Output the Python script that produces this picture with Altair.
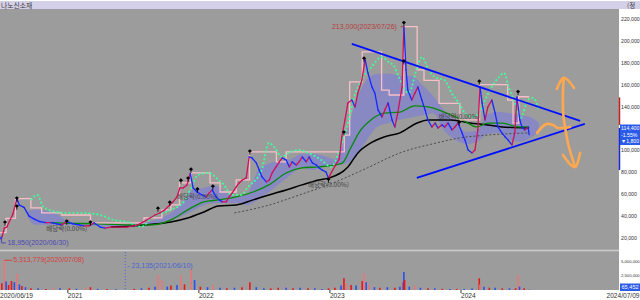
import altair as alt
import pandas as pd

LAT = "Liberation Sans"
KR = "Noto Sans CJK KR"

# ---------------- data (prices in thousand won, volume in millions) ----------------
price = [("2020-06-19",22.8),("2020-06-30",18.95),("2020-07-08",29),("2020-07-15",30),("2020-08-01",42),("2020-08-12",56),("2020-08-19",50),("2020-09-01",48),("2020-09-15",40),("2020-10-01",37),("2020-10-15",35),("2020-11-01",34),("2020-11-15",34),("2020-12-01",33),("2020-12-15",32),("2020-12-29",35),
 ("2021-01-15",33),("2021-02-01",32),("2021-02-15",31),("2021-03-01",31),("2021-03-15",34),("2021-04-01",30),("2021-04-15",29),("2021-05-01",30),("2021-05-15",30),("2021-06-01",30),("2021-06-15",30),("2021-07-01",31),("2021-07-15",32),("2021-08-01",35),("2021-08-18",38.3),
 ("2021-09-01",41),("2021-09-15",43),("2021-09-28",45.7),("2021-10-12",50.2),("2021-10-21",53),("2021-11-01",57.5),("2021-11-09",65.7),("2021-11-18",65.7),("2021-11-29",68.5),("2021-12-08",79),("2021-12-16",65.7),("2021-12-27",62),
 ("2022-01-10",59.3),("2022-01-21",57.5),("2022-01-30",61.2),("2022-02-07",64),("2022-02-18",57.5),("2022-02-27",54.8),("2022-03-07",53),("2022-03-18",53),("2022-03-26",57.5),("2022-04-04",61.2),("2022-04-15",66.6),("2022-04-23",70.3),("2022-05-02",73),("2022-05-13",74.9),("2022-05-21",94),("2022-05-29",93.1),("2022-06-10",88.6),("2022-06-18",82.2),("2022-06-26",75.8),("2022-07-08",71.2),("2022-07-16",73),("2022-07-24",79.4),("2022-08-04",84.9),("2022-08-13",89.5),("2022-08-21",93.1),("2022-09-01",91.3),("2022-09-10",84.9),("2022-09-18",89.5),("2022-09-29",86.7),("2022-10-07",89.5),("2022-10-16",94),("2022-10-27",89.5),("2022-11-04",94),("2022-11-13",88.6),("2022-11-24",86.7),("2022-12-02",84),("2022-12-10",82.2),("2022-12-21",80.3),("2022-12-28",74.9),
 ("2023-01-15",85.8),("2023-01-27",92),("2023-02-03",112.3),("2023-02-12",127.8),("2023-02-20",143.3),("2023-03-03",146),("2023-03-12",139.7),("2023-03-20",152.5),("2023-03-31",164.3),("2023-04-09",183),("2023-04-17",170.7),("2023-04-28",158),("2023-05-06",152.5),("2023-05-15",137),("2023-05-26",130.6),("2023-06-03",137),("2023-06-12",143.3),("2023-06-23",127.8),("2023-07-01",121.4),("2023-07-09",134.2),("2023-07-21",158),("2023-07-26",213),("2023-08-01",173.5),("2023-08-06",155),("2023-08-17",146),("2023-08-26",152.5),("2023-09-03",158),("2023-09-14",146),("2023-09-23",137),("2023-10-01",127.8),("2023-10-12",121.4),("2023-10-21",125),("2023-10-29",120.5),("2023-11-09",123.3),("2023-11-17",121.4),("2023-11-26",125),("2023-12-07",118.7),("2023-12-15",121.4),("2023-12-24",125),
 ("2024-01-04",116),("2024-01-12",109.6),("2024-01-21",100.4),("2024-02-01",97.7),("2024-02-09",100.4),("2024-02-17",118.7),("2024-02-23",158),("2024-02-29",143.3),("2024-03-08",127.8),("2024-03-16",139.7),("2024-03-27",146),("2024-04-05",134.2),("2024-04-13",121.4),("2024-04-24",116),("2024-05-03",112.3),("2024-05-11",109.6),("2024-05-22",105),("2024-05-30",116),("2024-06-05",148.8),("2024-06-13",127.8),("2024-06-19",121.4),("2024-06-27",118.7),("2024-07-06",121.4),("2024-07-09",114.4)]
price_dates = [p[0] for p in price]
price_close = [p[1] for p in price]

gma_dates = ["2020-11-15","2020-12-01","2021-04-01","2021-07-01","2021-08-24","2021-10-15","2021-12-01","2022-01-15","2022-02-25","2022-04-15","2022-06-01","2022-07-15","2022-09-01","2022-10-15","2022-12-01","2023-01-15","2023-02-05","2023-03-01","2023-03-28","2023-04-25","2023-06-01","2023-07-15","2023-08-25","2023-10-01","2023-11-15","2024-01-05","2024-02-15","2024-03-15","2024-04-25","2024-06-10","2024-07-09"]
gma_vals = [34,33.8,32.9,32,32,36.5,45.7,53,54.8,57.5,62,68.5,79.4,84,85,86.7,88.6,103,118.7,127.8,134,135,140.6,139.7,135,127.8,121.4,125,125,121.4,121.4]

bma_dates = ["2021-05-01","2021-07-01","2021-08-01","2021-10-15","2021-12-01","2022-01-15","2022-02-25","2022-04-15","2022-06-01","2022-07-15","2022-09-01","2022-10-15","2022-12-01","2022-12-30","2023-02-20","2023-03-20","2023-04-25","2023-06-01","2023-07-15","2023-09-01","2023-10-01","2023-12-05","2024-01-25","2024-03-15","2024-04-25","2024-07-09"]
bma_vals = [30,31,32,34.7,38.3,43.8,49.3,50.2,54.8,59.3,63.9,68.5,73,74.9,84.9,97.7,106.8,112.3,116,125,127.8,127.8,125,123.3,121.4,120.5]

dma_dates = ["2022-04-10","2022-07-15","2022-10-08","2023-01-10","2023-04-15","2023-07-15","2023-10-25","2023-12-29","2024-03-15","2024-07-09"]
dma_vals = [42.9,50,59.3,70.3,84,97.7,106.8,111.4,114,116]

pink_dates = ["2020-06-19","2020-07-13","2020-08-08","2020-09-20","2020-10-20","2020-12-15","2021-03-05","2021-06-01","2021-08-01","2021-09-20","2021-10-15","2021-11-08","2021-12-10","2022-02-01","2022-03-01","2022-04-15","2022-05-22","2022-08-05","2022-09-01","2023-02-10","2023-02-25","2023-04-01","2023-05-25","2023-06-15","2023-07-26","2023-09-01","2023-09-20","2023-11-01","2023-12-29","2024-02-22","2024-05-10","2024-05-25","2024-06-10","2024-07-09"]
pink_vals = [25,38,56,47.5,43,41,33.8,33.8,38.3,45.7,50.2,70.3,79.4,70.3,62,73,98.6,89.5,98.6,114,162.5,190,155,150.6,213,173.5,164,143,127.8,160,146,125,149,149]

gd_dates = ["2020-09-20","2020-10-08","2020-10-25","2020-12-01","2020-12-29","2021-02-12","2021-04-01","2021-05-08","2021-06-15","2021-07-25","2021-08-20","2021-10-15","2021-11-20","2021-12-10","2021-12-29","2022-01-27","2022-02-25","2022-03-12","2022-04-01","2022-04-28","2022-05-18","2022-06-25","2022-07-15","2022-07-30","2022-08-20","2022-09-08","2022-10-05","2022-11-02","2022-12-08","2023-01-05","2023-01-25","2023-02-22","2023-03-10","2023-03-30","2023-04-27","2023-05-25","2023-06-13","2023-06-30","2023-07-12","2023-08-08","2023-09-05","2023-09-14","2023-10-03","2023-10-20","2023-11-16","2023-12-06","2023-12-26","2024-01-12","2024-02-01","2024-02-20","2024-03-08","2024-03-27","2024-04-16","2024-04-30","2024-05-13","2024-05-27","2024-06-15","2024-07-05","2024-07-20","2024-08-05"]
gd_vals = [54.8,59.3,48.4,43.8,42.9,42.9,41,36.5,34.7,30.1,38.3,45.7,53,65.7,77.6,79.4,73,68.5,59.3,59.3,66.6,82.2,106.8,103,94,97.7,100.4,97.7,91.3,85,97.7,127.8,148.8,164.3,176.2,185.3,180.8,176.2,167,152.5,180,185.3,173.5,167,164.3,152.5,143.3,134.2,130.6,134.2,146,158,167,170.7,158,146,129.6,146,148,137]

band_dates = ["2020-09-10","2020-10-01","2020-11-01","2020-12-01","2020-12-29","2021-02-01","2021-04-01","2021-06-01","2021-08-01","2021-09-15","2021-10-15","2021-11-15","2021-12-15","2022-01-15","2022-02-15","2022-03-15","2022-04-15","2022-05-15","2022-06-15","2022-07-15","2022-08-15","2022-09-15","2022-10-15","2022-11-15","2022-12-15","2023-01-15","2023-02-15","2023-03-15","2023-04-15","2023-05-15","2023-06-15","2023-07-15","2023-08-15","2023-09-15","2023-10-15","2023-11-15","2023-12-15","2024-01-15","2024-02-15","2024-03-15","2024-04-15","2024-05-15","2024-06-15","2024-07-15","2024-08-05"]
band_hi = [44,46,45,42,36,34,34,33,34,38,43,52,64,66,68,62,58,60,82,88,90,92,97,97,95,92,115,145,165,170,170,168,168,160,150,137,128,117,118,133,135,134,132,130,125]
band_lo = [40,32,32,32,32,31,31,30,31,33,36,40,45,50,52,52,52,50,55,62,70,78,84,82,85,86,88,95,110,122,125,128,130,132,134,118,110,106,108,115,116,110,108,112,117]

mk_dates = ["2020-07-10","2020-08-12","2020-08-12","2020-12-29","2021-03-05","2021-09-09","2021-10-12","2021-11-12","2021-12-02","2021-12-10","2021-12-28","2022-02-09","2022-05-23","2022-12-28","2023-02-09","2023-04-06","2023-07-26","2023-07-26","2023-12-27","2024-02-21","2024-06-08"]
mk_vals = [33.8,55.7,48.4,34.7,33.8,46.5,52,72,74,82,64,66.6,98.6,73,116,183.5,216,181,125,162.5,153]

exdiv_dates = ["2020-12-29","2021-12-28","2022-12-28","2023-12-27"]
exdiv_label_at = [28.3,57.5,68.5,130.6]

trend_start = [("2023-03-03",197.2),("2023-08-31",74.9)]
trend_end = [("2024-11-28",126.9),("2024-12-11",124.2)]

orange_d = ["2024-10-14","2024-10-11","2024-10-11","2024-10-17","2024-10-25","2024-11-05","2024-11-14",
            "2024-09-24","2024-10-14","2024-11-11",
            "2024-10-11","2024-11-14","2024-11-28",
            "2024-07-31","2024-08-14","2024-08-28","2024-09-13","2024-09-27","2024-10-14","2024-10-31"]
orange_v = [166.2,152.5,137.0,121.4,106.8,94.0,84.9,
            156.1,166.2,157.0,
            95.9,84.9,97.7,
            116.0,121.4,124.2,123.3,120.5,120.5,121.4]
orange_s = ["a"]*7 + ["b"]*3 + ["c"]*3 + ["d"]*7

volume = [("2020-06-22",0.8,"b"),("2020-07-01",1.2,"r"),("2020-07-08",5.31,"p"),("2020-07-13",1.5,"b"),("2020-07-20",0.9,"r"),("2020-07-28",1.6,"r"),("2020-08-05",1.4,"b"),("2020-08-12",2.9,"p"),("2020-08-19",1.0,"b"),("2020-08-26",0.7,"r"),("2020-09-05",0.5,"b"),("2020-09-20",0.3,"r"),("2020-10-10",0.3,"b"),("2020-11-01",0.2,"r"),("2020-11-20",0.4,"p"),("2020-12-10",0.3,"b"),
 ("2021-01-05",0.3,"r"),("2021-01-25",0.2,"b"),("2021-02-20",0.4,"p"),("2021-03-05",0.5,"r"),("2021-03-25",0.2,"b"),("2021-04-20",0.2,"r"),("2021-05-15",0.15,"b"),("2021-06-10",0.023,"b"),("2021-07-05",0.2,"r"),("2021-07-25",0.3,"b"),("2021-08-15",0.4,"r"),("2021-09-01",0.6,"b"),("2021-09-09",2.7,"p"),("2021-09-20",1.8,"p"),("2021-10-05",0.6,"b"),("2021-10-15",0.8,"r"),("2021-11-01",0.9,"b"),("2021-11-12",2.7,"p"),("2021-11-22",1.0,"r"),("2021-12-10",3.6,"p"),("2021-12-20",1.8,"b"),
 ("2022-01-05",0.6,"r"),("2022-01-25",0.5,"b"),("2022-02-09",0.9,"p"),("2022-03-01",0.4,"b"),("2022-03-20",0.3,"r"),("2022-04-10",0.4,"b"),("2022-05-01",0.5,"r"),("2022-05-23",1.4,"r"),("2022-06-10",0.5,"b"),("2022-07-01",0.3,"b"),("2022-07-20",0.3,"r"),("2022-08-10",0.4,"r"),("2022-09-01",0.4,"b"),("2022-09-20",0.3,"r"),("2022-10-10",0.4,"b"),("2022-11-01",0.3,"r"),("2022-11-20",0.3,"b"),("2022-12-10",0.2,"b"),("2022-12-28",0.3,"r"),
 ("2023-01-15",0.4,"r"),("2023-02-01",0.8,"b"),("2023-02-09",2.1,"r"),("2023-02-15",1.2,"p"),("2023-03-01",0.9,"r"),("2023-03-15",0.8,"b"),("2023-04-01",1.6,"r"),("2023-04-06",3.0,"p"),("2023-04-12",1.4,"b"),("2023-04-20",1.0,"p"),("2023-05-05",0.5,"b"),("2023-05-20",0.4,"r"),("2023-06-10",0.5,"b"),("2023-07-01",0.4,"r"),("2023-07-15",0.6,"b"),("2023-07-24",1.4,"r"),("2023-07-26",3.2,"b"),("2023-07-28",1.8,"r"),("2023-08-10",0.6,"b"),("2023-08-25",0.8,"p"),("2023-09-10",0.4,"b"),("2023-10-01",0.3,"r"),("2023-10-20",0.3,"b"),("2023-11-10",0.2,"r"),("2023-12-01",0.2,"b"),("2023-12-20",0.2,"r"),
 ("2024-01-10",0.2,"b"),("2024-02-01",0.25,"b"),("2024-02-21",2.1,"r"),("2024-02-23",1.0,"p"),("2024-03-05",0.6,"b"),("2024-03-20",0.4,"r"),("2024-04-05",0.4,"b"),("2024-04-25",0.3,"r"),("2024-05-15",0.3,"b"),("2024-06-01",0.3,"r"),("2024-06-08",2.7,"p"),("2024-06-12",0.6,"b"),("2024-06-25",0.3,"r"),("2024-07-09",0.065,"b")]

price_ticks = [20,40,60,80,100,120,140,160,180,200,220]
price_tick_labels = ["20,000","40,000","60,000","80,000","100,000","120,000","140,000","160,000","180,000","200,000","220,000"]
vol_ticks = [2.5, 5.0]
vol_tick_labels = ["2,500,000","5,000,000"]
year_ticks = ["2021-01-01","2022-01-01","2023-01-01","2024-01-01"]
year_labels = ["2021","2022","2023","2024"]

# ---------------- scales ----------------
X = alt.Scale(domain=[alt.DateTime(year=2020, month=6, date=26), alt.DateTime(year=2025, month=3, date=19)], range=[0, 620])
YP = alt.Scale(domain=[20, 220], range=[238, 19], nice=False, zero=False)
YV = alt.Scale(domain=[0, 5], range=[290, 262], nice=False, zero=False)

def xd(f="d"):
    return alt.X(f"{f}:T", scale=X, axis=None)

def yp(f="v"):
    return alt.Y(f"{f}:Q", scale=YP, axis=None)

def yv(f="v"):
    return alt.Y(f"{f}:Q", scale=YV, axis=None)

one = pd.DataFrame({"k": [0]})
layers = []

# backgrounds
layers.append(alt.Chart(one).mark_rect(color="#9c9c9c").encode(x=alt.value(0), x2=alt.value(619), y=alt.value(9), y2=alt.value(290)))
layers.append(alt.Chart(one).mark_rect(color="#d4d0e8").encode(x=alt.value(0), x2=alt.value(640), y=alt.value(1), y2=alt.value(9)))
layers.append(alt.Chart(one).mark_rule(color="#cdcdcd", strokeWidth=1.5).encode(x=alt.value(0), x2=alt.value(619), y=alt.value(250.5)))

# cloud band
band = pd.DataFrame({"d": band_dates, "hi": band_hi, "lo": band_lo})
layers.append(alt.Chart(band).mark_area(color="#7878e4", opacity=0.55, interpolate="monotone").encode(x=xd(), y=yp("hi"), y2="lo:Q"))

# moving averages
layers.append(alt.Chart(pd.DataFrame({"d": dma_dates, "v": dma_vals})).mark_line(color="#4a4a4a", strokeWidth=1, strokeDash=[2, 2], interpolate="monotone").encode(x=xd(), y=yp()))
layers.append(alt.Chart(pd.DataFrame({"d": bma_dates, "v": bma_vals})).mark_line(color="#000000", strokeWidth=1.5, interpolate="monotone").encode(x=xd(), y=yp()))
layers.append(alt.Chart(pd.DataFrame({"d": gma_dates, "v": gma_vals})).mark_line(color="#078a07", strokeWidth=1.3, interpolate="monotone").encode(x=xd(), y=yp()))

# upper step line and green dotted
layers.append(alt.Chart(pd.DataFrame({"d": pink_dates, "v": pink_vals})).mark_line(color="#f7c0c8", strokeWidth=1.3, interpolate="step-after").encode(x=xd(), y=yp()))
layers.append(alt.Chart(pd.DataFrame({"d": gd_dates, "v": gd_vals})).mark_line(color="#3cff9a", strokeWidth=1.8, strokeDash=[2, 2], interpolate="monotone").encode(x=xd(), y=yp()))

# price
seg = pd.DataFrame({"d": price_dates[:-1], "v": price_close[:-1], "d2": price_dates[1:], "v2": price_close[1:]})
seg["dir"] = ["up" if b >= a else "dn" for a, b in zip(seg["v"], seg["v2"])]
layers.append(alt.Chart(seg).mark_rule(strokeWidth=1.3, strokeCap="round").encode(
    x=xd(), y=yp(), x2="d2:T", y2="v2:Q",
    color=alt.Color("dir:N", scale=alt.Scale(domain=["up", "dn"], range=["#d0105a", "#1428ff"]), legend=None)))

# trend lines
tr = pd.DataFrame({"d": [s[0] for s in trend_start], "v": [s[1] for s in trend_start],
                   "d2": [e[0] for e in trend_end], "v2": [e[1] for e in trend_end]})
layers.append(alt.Chart(tr).mark_rule(color="#0010ff", strokeWidth=1.8).encode(x=xd(), y=yp(), x2="d2:T", y2="v2:Q"))

# markers
MK = "M0,-1L0.75,-0.3L0,0.4L-0.75,-0.3Z M-0.15,0.3L0.15,0.3L0.15,1L-0.15,1Z"
layers.append(alt.Chart(pd.DataFrame({"d": mk_dates, "v": mk_vals})).mark_point(shape=MK, filled=True, color="#000000", size=30, opacity=1).encode(x=xd(), y=yp()))

# ex-dividend labels
layers.append(alt.Chart(pd.DataFrame({"d": exdiv_dates, "v": exdiv_label_at, "t": ["배당락(0.00%)"] * 4})).mark_text(font=KR, fontSize=6.5, color="#454545", baseline="middle").encode(x=xd(), y=yp(), text="t:N"))

# high / low annotations
layers.append(alt.Chart(pd.DataFrame({"d": ["2023-07-26"], "v": [213], "t": ["213,000(2023/07/26)"]})).mark_text(font=LAT, fontSize=7, color="#b83c3c", align="right", baseline="middle", dx=-7).encode(x=xd(), y=yp(), text="t:N"))
layers.append(alt.Chart(pd.DataFrame({"d": ["2023-07-17"], "d2": ["2023-07-26"], "v": [213]})).mark_rule(color="#b83c3c", strokeWidth=1).encode(x=xd(), x2="d2:T", y=yp()))
layers.append(alt.Chart(pd.DataFrame({"d": ["2020-06-30"], "v": [15.5], "t": ["18,950(2020/06/30)"]})).mark_text(font=LAT, fontSize=7, color="#4a4ab4", align="left", baseline="middle", dx=6).encode(x=xd(), y=yp(), text="t:N"))
layers.append(alt.Chart(pd.DataFrame({"d": ["2020-06-30"], "v": [21.9], "v2": [15.5]})).mark_rule(color="#4a4ab4", strokeWidth=1).encode(x=xd(), y=yp(), y2="v2:Q"))
layers.append(alt.Chart(pd.DataFrame({"d": ["2020-06-30"], "d2": ["2020-07-12"], "v": [15.5]})).mark_rule(color="#4a4ab4", strokeWidth=1).encode(x=xd(), x2="d2:T", y=yp()))

# orange hand-drawn arrows
orng = pd.DataFrame({"d": orange_d, "v": orange_v, "s": orange_s, "o": list(range(len(orange_d)))})
layers.append(alt.Chart(orng).mark_line(color="#ffa850", strokeWidth=2.6, strokeCap="round", strokeJoin="round", interpolate="monotone").encode(x=xd(), y=yp(), detail="s:N", order="o:Q"))

# volume
vol = pd.DataFrame({"d": [v[0] for v in volume], "v": [v[1] for v in volume], "c": [v[2] for v in volume]})
vol["z"] = 0.0
layers.append(alt.Chart(vol).mark_rule(strokeWidth=1.6).encode(
    x=xd(), y=yv(), y2="z:Q",
    color=alt.Color("c:N", scale=alt.Scale(domain=["r", "p", "b"], range=["#e81818", "#e77878", "#2a50f0"]), legend=None)))
layers.append(alt.Chart(pd.DataFrame({"d": ["2020-07-08"], "d2": ["2020-07-30"], "v": [5.31]})).mark_rule(color="#d84040", strokeWidth=1).encode(x=xd(), x2="d2:T", y=yv()))
layers.append(alt.Chart(pd.DataFrame({"d": ["2020-07-30"], "v": [5.31], "t": ["5,313,779(2020/07/08)"]})).mark_text(font=LAT, fontSize=7, color="#d84040", align="left", baseline="middle", dx=1).encode(x=xd(), y=yv(), text="t:N"))
layers.append(alt.Chart(pd.DataFrame({"d": ["2021-06-10"]})).mark_rule(color="#4a66e0", strokeWidth=1, strokeDash=[1, 2]).encode(x=xd(), y=alt.value(252), y2=alt.value(290)))
layers.append(alt.Chart(pd.DataFrame({"d": ["2021-06-10"], "t": ["- 23,135(2021/06/10)"]})).mark_text(font=LAT, fontSize=7, color="#4a66d0", align="left", baseline="middle", dx=2).encode(x=xd(), y=alt.value(266), text="t:N"))

# right price axis (small enough to fit the 20px margin)
layers.append(alt.Chart(pd.DataFrame({"v": price_ticks, "t": price_tick_labels})).mark_text(font=LAT, fontSize=5.2, color="#333333", align="left", baseline="middle").encode(x=alt.value(621), y=yp(), text="t:N"))
layers.append(alt.Chart(pd.DataFrame({"v": vol_ticks, "t": vol_tick_labels})).mark_text(font=LAT, fontSize=4.2, color="#333333", align="left", baseline="middle").encode(x=alt.value(621), y=yv(), text="t:N"))

# right range bars + current price box
layers.append(alt.Chart(pd.DataFrame({"v": [148.4], "v2": [123.3]})).mark_rule(color="#c81e1e", strokeWidth=1.5).encode(x=alt.value(619.5), y=yp(), y2="v2:Q"))
layers.append(alt.Chart(pd.DataFrame({"v": [120.5], "v2": [82.0]})).mark_rule(color="#1a2ad0", strokeWidth=1.5).encode(x=alt.value(619.5), y=yp(), y2="v2:Q"))
layers.append(alt.Chart(one).mark_rect(color="#2a5ae8").encode(x=alt.value(620), x2=alt.value(640), y=alt.value(124.5), y2=alt.value(145)))
layers.append(alt.Chart(pd.DataFrame({"t": ["114,400", "-1.55%", "▼1,800"], "y": [128, 134.5, 141]})).mark_text(font=LAT, fontSize=5.2, color="#ffffff", align="left", baseline="middle").encode(x=alt.value(621), y=alt.Y("y:Q", scale=None), text="t:N"))
layers.append(alt.Chart(one).mark_rect(color="#2a5ae8").encode(x=alt.value(620), x2=alt.value(640), y=alt.value(283.5), y2=alt.value(291)))
layers.append(alt.Chart(pd.DataFrame({"t": ["65,452"]})).mark_text(font=LAT, fontSize=5.6, color="#ffffff", align="left", baseline="middle").encode(x=alt.value(621.5), y=alt.value(287.3), text="t:N"))

# title and top right text
layers.append(alt.Chart(pd.DataFrame({"t": ["나노신소재"]})).mark_text(font=KR, fontSize=6.8, color="#3a3a3a", align="left", baseline="middle").encode(x=alt.value(1), y=alt.value(5.6), text="t:N"))
layers.append(alt.Chart(pd.DataFrame({"t": ["(정"]})).mark_text(font=KR, fontSize=6.5, color="#3a3a3a", align="left", baseline="middle").encode(x=alt.value(627), y=alt.value(5.6), text="t:N"))

# bottom date axis
layers.append(alt.Chart(pd.DataFrame({"d": year_ticks})).mark_rule(color="#333333", strokeWidth=1).encode(x=xd(), y=alt.value(290), y2=alt.value(293)))
layers.append(alt.Chart(pd.DataFrame({"d": year_ticks, "t": year_labels})).mark_text(font=LAT, fontSize=6.6, color="#333333", align="left", baseline="middle", dx=0).encode(x=xd(), y=alt.value(295.5), text="t:N"))
layers.append(alt.Chart(pd.DataFrame({"t": ["2020/06/19"]})).mark_text(font=LAT, fontSize=6.6, color="#333333", align="left", baseline="middle").encode(x=alt.value(0), y=alt.value(295.5), text="t:N"))
layers.append(alt.Chart(pd.DataFrame({"t": ["2024/07/09"]})).mark_text(font=LAT, fontSize=6.6, color="#333333", align="right", baseline="middle").encode(x=alt.value(639.5), y=alt.value(295.5), text="t:N"))

chart = alt.layer(*layers).resolve_scale(y="independent", color="independent").properties(
    width=640, height=300, padding=0, autosize="none", background="white"
).configure_view(stroke=None)

chart.save("out.html", embed_options={"renderer": "svg", "actions": False})
